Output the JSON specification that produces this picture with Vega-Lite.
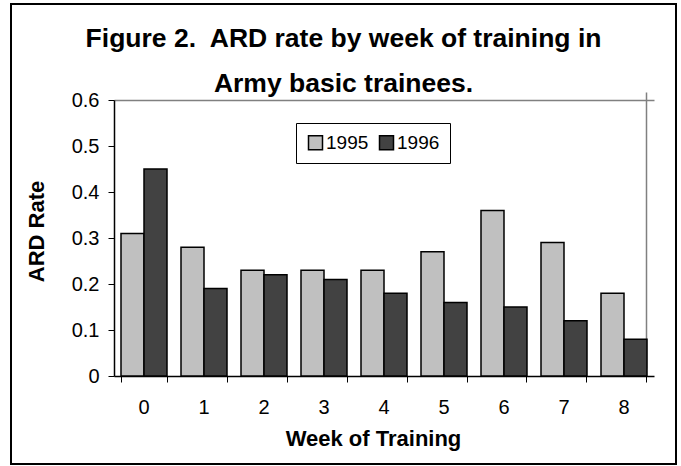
{
  "$schema": "https://vega.github.io/schema/vega-lite/v6.json",
  "autosize": {"type": "none"},
  "width": 665,
  "height": 460,
  "padding": {"left": 11, "top": 4, "right": 5, "bottom": 2},
  "background": "#ffffff",
  "title": {
    "text": ["Figure 2.\u00a0 ARD rate by week of training in", "Army basic trainees."],
    "fontSize": 26.5,
    "fontWeight": "bold",
    "font": "Liberation Sans",
    "color": "#000000",
    "anchor": "middle",
    "frame": "group",
    "offset": -93,
    "lineHeight": 45
  },
  "data": {
    "values": [
      {"week": 0, "year": "1995", "rate": 0.31},
      {"week": 0, "year": "1996", "rate": 0.45},
      {"week": 1, "year": "1995", "rate": 0.28},
      {"week": 1, "year": "1996", "rate": 0.19},
      {"week": 2, "year": "1995", "rate": 0.23},
      {"week": 2, "year": "1996", "rate": 0.22},
      {"week": 3, "year": "1995", "rate": 0.23},
      {"week": 3, "year": "1996", "rate": 0.21},
      {"week": 4, "year": "1995", "rate": 0.23},
      {"week": 4, "year": "1996", "rate": 0.18},
      {"week": 5, "year": "1995", "rate": 0.27},
      {"week": 5, "year": "1996", "rate": 0.16},
      {"week": 6, "year": "1995", "rate": 0.36},
      {"week": 6, "year": "1996", "rate": 0.15},
      {"week": 7, "year": "1995", "rate": 0.29},
      {"week": 7, "year": "1996", "rate": 0.12},
      {"week": 8, "year": "1995", "rate": 0.18},
      {"week": 8, "year": "1996", "rate": 0.08}
    ]
  },
  "mark": {"type": "bar", "stroke": "#000000", "strokeWidth": 1.5},
  "encoding": {
    "x": {
      "field": "week",
      "type": "ordinal",
      "scale": {"range": [103, 643], "paddingInner": 0.2333, "paddingOuter": 0.1167},
      "axis": {
        "title": "Week of Training",
        "offset": -88,
        "labelAngle": 0,
        "bandPosition": 1,
        "tickExtra": true,
        "domainColor": "#000000",
        "domainWidth": 1.5,
        "tickColor": "#000000",
        "tickSize": 6,
        "tickWidth": 1,
        "labelFontSize": 20,
        "labelPadding": 15,
        "labelColor": "#000000",
        "titleFontSize": 22,
        "titleFontWeight": "bold",
        "titleColor": "#000000",
        "titleX": 362,
        "titleY": 69,
        "titleBaseline": "alphabetic",
        "titleAlign": "center",
        "grid": true,
        "gridColor": {"condition": {"test": "datum.value == 8", "value": "#808080"}, "value": "transparent"},
        "gridWidth": 1.5
      }
    },
    "xOffset": {"field": "year", "type": "nominal", "scale": {"paddingInner": 0, "paddingOuter": 0}},
    "y": {
      "field": "rate",
      "type": "quantitative",
      "scale": {"domain": [0, 0.6], "range": [372, 96], "nice": false, "zero": true},
      "axis": {
        "title": "ARD Rate",
        "offset": -103,
        "values": [0, 0.1, 0.2, 0.3, 0.4, 0.5, 0.6],
        "format": ".1~f",
        "domainColor": "#000000",
        "domainWidth": 1.5,
        "tickColor": "#000000",
        "tickSize": 6,
        "tickWidth": 1,
        "labelFontSize": 20,
        "labelPadding": 9,
        "labelColor": "#000000",
        "titleFontSize": 22,
        "titleFontWeight": "bold",
        "titleColor": "#000000",
        "titleX": -71,
        "titleY": 227,
        "titleBaseline": "alphabetic",
        "titleAlign": "center",
        "titleAngle": 270,
        "grid": true,
        "gridColor": {"condition": {"test": "datum.value == 0.6", "value": "#808080"}, "value": "transparent"},
        "gridWidth": 1.5
      }
    },
    "color": {
      "field": "year",
      "type": "nominal",
      "scale": {"domain": ["1995", "1996"], "range": ["#c0c0c0", "#424242"]},
      "legend": {
        "title": null,
        "orient": "none",
        "legendX": 285,
        "legendY": 119,
        "direction": "horizontal",
        "strokeColor": "#000000",
        "padding": 10,
        "symbolType": "square",
        "symbolSize": 196,
        "symbolStrokeColor": "#000000",
        "symbolStrokeWidth": 1.5,
        "symbolOpacity": 1,
        "labelFontSize": 19,
        "labelOffset": 1,
        "columnPadding": 7,
        "labelColor": "#000000"
      }
    }
  },
  "config": {
    "font": "Liberation Sans",
    "view": {"stroke": "#000000", "strokeWidth": 2},
    "legend": {"strokeWidth": 1}
  }
}
